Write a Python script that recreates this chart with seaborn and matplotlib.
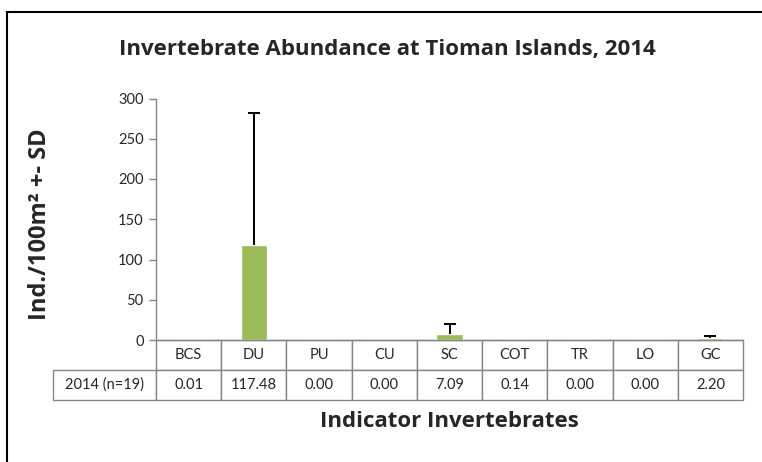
import numpy as np
import pandas as pd
import seaborn as sns
import matplotlib.pyplot as plt
from matplotlib.patches import Rectangle

# Datos
categorias = ["BCS", "DU", "PU", "CU", "SC", "COT", "TR", "LO", "GC"]
medias = [0.01, 117.48, 0.00, 0.00, 7.09, 0.14, 0.00, 0.00, 2.20]
desv_std = [0.0, 165.1, 0.0, 0.0, 13.0, 0.0, 0.0, 0.0, 2.8]
etiqueta_fila = "2014 (n=19)"
ticks_y = [0, 50, 100, 150, 200, 250, 300]

sns.set_style("white")
plt.rcParams["font.family"] = ["Lato", "DejaVu Sans"]
fuente_titulos = ["Open Sans", "DejaVu Sans"]

datos = pd.DataFrame({"cat": categorias, "media": medias})

fig = plt.figure(figsize=(7.62, 4.62), dpi=100)
ax = fig.add_axes([156 / 762, 1 - 340 / 462, 587 / 762, 241.5 / 462])

sns.barplot(data=datos, x="cat", y="media", color="#9BBB59", width=0.4,
            saturation=1, ax=ax)

# Barras de error solo hacia arriba (como en Excel)
x = np.arange(len(categorias))
sd = np.array(desv_std)
m = sd > 0
_, caps, _ = ax.errorbar(x[m], np.array(medias)[m],
                         yerr=[np.zeros(m.sum()), sd[m]],
                         fmt="none", ecolor="black", elinewidth=1.4,
                         capsize=4.3, capthick=1.4)
caps[0].set_visible(False)  # sin tapa inferior

ax.set_ylim(0, 300)
ax.set_xlim(-0.5, len(categorias) - 0.5)
ax.set_yticks(ticks_y)
ax.set_xticks([])
ax.set_xlabel("")
ax.set_ylabel("")
ax.tick_params(axis="y", which="major", length=5, width=1, color="#868686",
               labelsize=10.5, left=True, pad=4)
for s in ["top", "right"]:
    ax.spines[s].set_visible(False)
for s in ["left", "bottom"]:
    ax.spines[s].set_color("#868686")
    ax.spines[s].set_linewidth(1)

# Tabla de datos bajo el eje
texto_valores = [etiqueta_fila] + [f"{v:.2f}" for v in medias]
ancho_total = 690
anchos = [103 / ancho_total] + [(587 / 9) / ancho_total] * len(categorias)
tabla = ax.table(cellText=[texto_valores], colLabels=[""] + categorias,
                 colWidths=anchos, cellLoc="center",
                 bbox=[-103 / 587, -60 / 241.5, ancho_total / 587, 60 / 241.5])
tabla.auto_set_font_size(False)
tabla.set_fontsize(10.5)
for (r, c), celda in tabla.get_celld().items():
    celda.set_edgecolor("#868686")
    celda.set_linewidth(1)
    if r == 0 and c == 0:
        celda.visible_edges = ""

fig.text(0.509, 0.892, "Invertebrate Abundance at Tioman Islands, 2014",
         ha="center", va="center", fontsize=16, fontweight="bold",
         family=fuente_titulos)
fig.text(0.052, 0.515, "Ind./100m² +- SD", rotation=90, ha="center",
         va="center", fontsize=17, fontweight="bold", family=fuente_titulos)
fig.text(0.59, 0.087, "Indicator Invertebrates", ha="center", va="center",
         fontsize=16, fontweight="bold", family=fuente_titulos)

# Marco exterior del gráfico
fig.patches.append(Rectangle((7 / 762, -0.1), 1.2, 0.974 + 0.1,
                             transform=fig.transFigure, fill=False,
                             edgecolor="black", linewidth=1.5))

fig.savefig("out.png", dpi=100)
